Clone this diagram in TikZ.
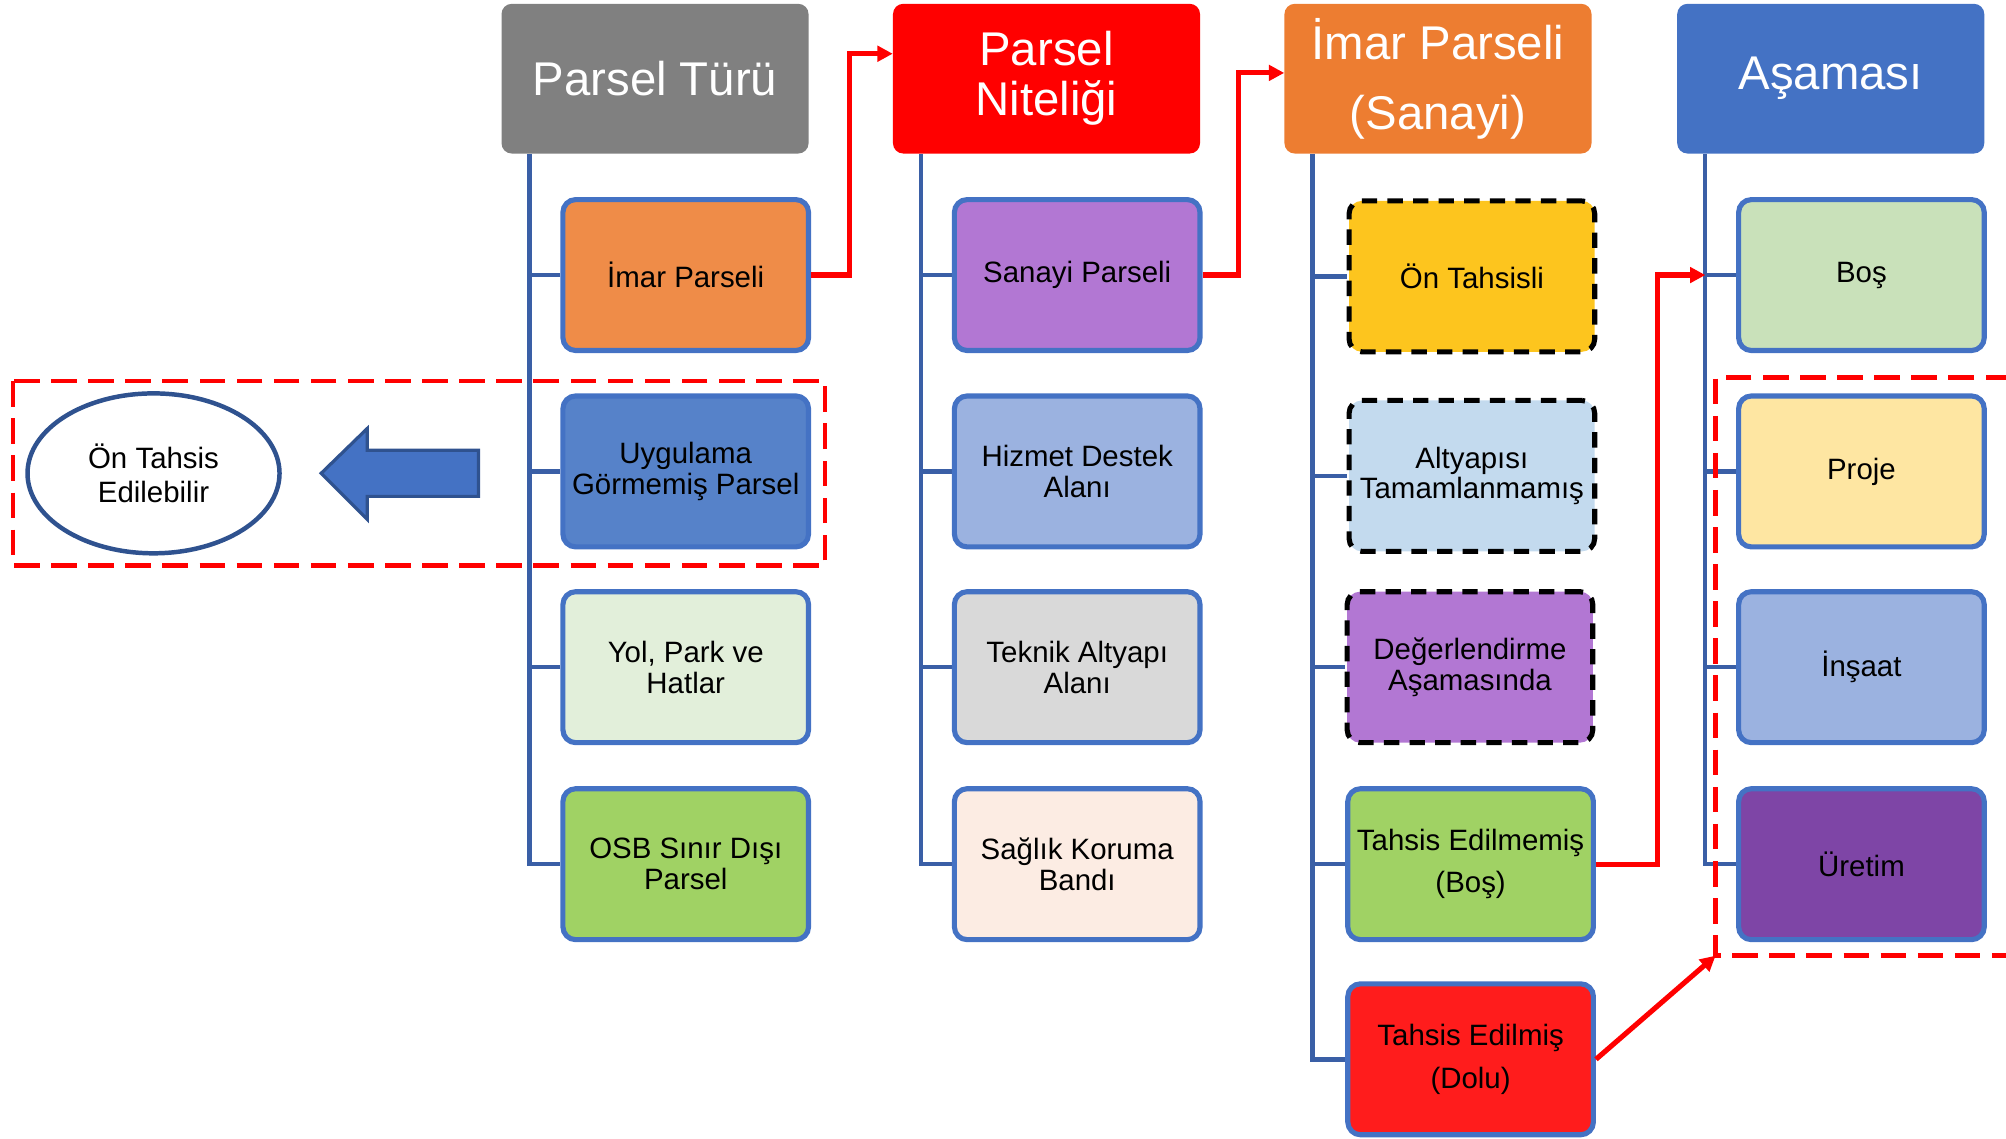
\documentclass[tikz,border=0pt]{standalone}
\usepackage{fontspec}
\setmainfont{Liberation Sans}
\usetikzlibrary{arrows.meta,shapes.geometric,backgrounds}

\definecolor{hdgray}{HTML}{808080}
\definecolor{hdred}{HTML}{FF0000}
\definecolor{hdorange}{HTML}{ED7D31}
\definecolor{hdblue}{HTML}{4472C4}
\definecolor{edgeblue}{HTML}{4472C4}
\definecolor{trunkblue}{HTML}{3A5FA6}
\definecolor{darkblue}{HTML}{2F528F}
\definecolor{cimar}{HTML}{EF8C48}
\definecolor{cuygulama}{HTML}{5682C9}
\definecolor{cyol}{HTML}{E2EFDA}
\definecolor{cgreen}{HTML}{A0D264}
\definecolor{cpurple}{HTML}{B277D3}
\definecolor{chizmet}{HTML}{9BB2E0}
\definecolor{cteknik}{HTML}{D9D9D9}
\definecolor{csaglik}{HTML}{FCECE3}
\definecolor{cyellow}{HTML}{FDC51E}
\definecolor{caltyapi}{HTML}{C3DAEE}
\definecolor{cdolu}{HTML}{FF1C1C}
\definecolor{cbos}{HTML}{C9E1BA}
\definecolor{cproje}{HTML}{FEE6A2}
\definecolor{curetim}{HTML}{7E45A6}

\tikzset{
  header/.style={rounded corners=8pt, minimum width=240pt, minimum height=117pt,
    text=white, align=center, inner sep=0pt, font=\fontsize{37}{39}\selectfont},
  cell/.style={draw=edgeblue, line width=4pt, rounded corners=10pt,
    minimum width=192pt, minimum height=118pt, align=center, inner sep=0pt,
    font=\fontsize{23}{24}\selectfont},
  pending/.style={cell, draw=black, dash pattern=on 12pt off 8pt},
  trunk/.style={draw=trunkblue, line width=3.5pt},
  flow/.style={draw=red, line width=4pt, -{Triangle[length=12pt,width=12pt]}},
  focus/.style={draw=red, line width=3.5pt, dash pattern=on 20pt off 9pt},
}

\begin{document}
\begin{tikzpicture}[x=1pt,y=-1pt]
\useasboundingbox (0,0) rectangle (1568,890);

% headers
\node[header, fill=hdgray] (turu) at (512,61.5) {Parsel Türü};
\node[header, fill=hdred] (nitelik) at (818,61.5) {Parsel\\Niteliği};
\node[header, fill=hdorange, font=\fontsize{37}{55}\selectfont] (sanhead) at (1124,61.5) {İmar Parseli\\(Sanayi)};
\node[header, fill=hdblue] (asama) at (1431,61.5) {Aşaması};

% parsel turu
\node[cell, fill=cimar] (imar) at (536,215) {İmar Parseli};
\node[cell, fill=cuygulama] (uygulama) at (536,368.5) {Uygulama\\Görmemiş Parsel};
\node[cell, fill=cyol] (yol) at (536,521.5) {Yol, Park ve\\Hatlar};
\node[cell, fill=cgreen] (osb) at (536,675.5) {OSB Sınır Dışı\\Parsel};

% parsel niteligi
\node[cell, fill=cpurple] (sanayi) at (842,215) {Sanayi Parseli};
\node[cell, fill=chizmet] (hizmet) at (842,368.5) {Hizmet Destek\\Alanı};
\node[cell, fill=cteknik] (teknik) at (842,521.5) {Teknik Altyapı\\Alanı};
\node[cell, fill=csaglik] (saglik) at (842,675.5) {Sağlık Koruma\\Bandı};

% imar parseli (sanayi)
\node[pending, fill=cyellow] (ontahsisli) at (1150.5,216) {Ön Tahsisli};
\node[pending, fill=caltyapi] (altyapi) at (1150.5,372) {Altyapısı\\Tamamlanmamış};
\node[pending, fill=cpurple] (degerlendirme) at (1149,521.5) {Değerlendirme\\Aşamasında};
\node[cell, fill=cgreen, font=\fontsize{23}{33}\selectfont] (edilmemis) at (1149.5,675.5) {Tahsis Edilmemiş\\(Boş)};
\node[cell, fill=cdolu, font=\fontsize{23}{34}\selectfont] (edilmis) at (1149.5,828) {Tahsis Edilmiş\\(Dolu)};

% asamasi
\node[cell, fill=cbos] (bos) at (1455,215) {Boş};
\node[cell, fill=cproje] (proje) at (1455,368.5) {Proje};
\node[cell, fill=chizmet] (insaat) at (1455,521.5) {İnşaat};
\node[cell, fill=curetim] (uretim) at (1455,675.5) {Üretim};

% trunks and stubs
\begin{scope}[on background layer]
\draw[trunk] ([xshift=22pt]turu.south west) |- (osb.west);
\draw[trunk] ([xshift=22pt]nitelik.south west) |- (saglik.west);
\draw[trunk] ([xshift=22pt]sanhead.south west) |- (edilmis.west);
\draw[trunk] ([xshift=22pt]asama.south west) |- (uretim.west);
\draw[trunk] (imar.west) -- ++(-24,0);
\draw[trunk] (uygulama.west) -- ++(-24,0);
\draw[trunk] (yol.west) -- ++(-24,0);
\draw[trunk] (sanayi.west) -- ++(-24,0);
\draw[trunk] (hizmet.west) -- ++(-24,0);
\draw[trunk] (teknik.west) -- ++(-24,0);
\draw[trunk] (ontahsisli.west) -- ++(-25.5,0);
\draw[trunk] (altyapi.west) -- ++(-25.5,0);
\draw[trunk] (degerlendirme.west) -- ++(-24,0);
\draw[trunk] (edilmemis.west) -- ++(-24.5,0);
\draw[trunk] (bos.west) -- ++(-24,0);
\draw[trunk] (proje.west) -- ++(-24,0);
\draw[trunk] (insaat.west) -- ++(-24,0);
\end{scope}

% on tahsis
\node[draw=darkblue, line width=3.5pt, fill=white, ellipse, minimum width=197pt, minimum height=125pt,
  align=center, font=\fontsize{23}{27}\selectfont] (edilebilir) at (120,370) {Ön Tahsis\\Edilebilir};
\draw[fill=hdblue, draw=darkblue, line width=2.5pt] (374,352) -- (287,352) -- (287,335) -- (251,370)
  -- (287,406) -- (287,388) -- (374,388) -- cycle;

% dashed groups
\draw[focus] (10,298) rectangle (645,442);
\draw[focus] (1572,295) -- (1341,295) -- (1341,747) -- (1572,747);
\coordinate (grpcorner) at (1341,747);

% red links
\draw[flow] (imar.east) -- ++(30,0) |- ([yshift=19.5pt]nitelik.west);
\draw[flow] (sanayi.east) -- ++(28,0) |- ([yshift=4.5pt]sanhead.west);
\draw[flow] (edilmemis.east) -- ++(48,0) |- ([xshift=-24pt]bos.west);
\draw[flow] (edilmis.east) -- (grpcorner);
\end{tikzpicture}
\end{document}
